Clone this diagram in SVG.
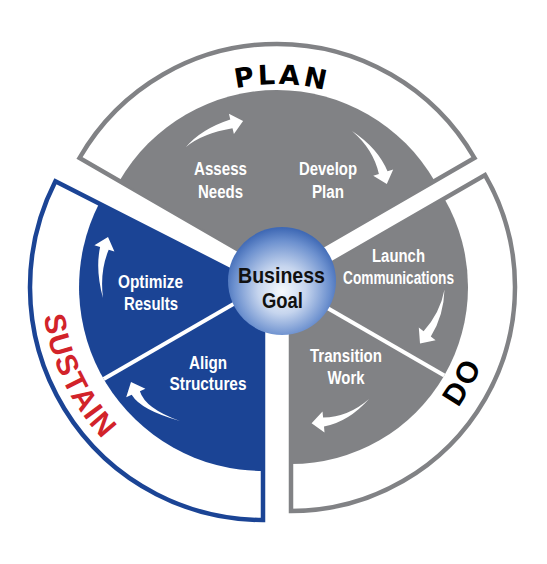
<svg xmlns="http://www.w3.org/2000/svg" width="547" height="564" viewBox="0 0 547 564">
<defs>
<radialGradient id="sphereGrad" cx="50%" cy="56%" r="55%" fx="50%" fy="60%">
<stop offset="0" stop-color="#f6f9fd"/>
<stop offset="0.4" stop-color="#c6d5ee"/>
<stop offset="0.8" stop-color="#6d91cf"/>
<stop offset="1" stop-color="#3f69b5"/>
</radialGradient>
<path id="arcPlan" d="M114.2,178 A188,188 0 0 1 439.8,178"/>
<path id="arcSustain" d="M71.6,176.5 A221,221 0 0 0 224.6,504.6"/>
<path id="arcDo" d="M291,493 A206,206 0 0 0 484.6,216.5"/>
</defs>
<style>
.ol-gray{fill:#fff;stroke:#818285;stroke-width:4.5}
.ol-blue{fill:#fff;stroke:#1b4495;stroke-width:4.5}
.f-gray{fill:#818285}
.f-blue{fill:#1b4495}
.sep{stroke:#fff;stroke-width:4}
.lbl{font-family:"Liberation Sans Narrow","Liberation Sans",Arial,sans-serif;font-weight:bold;font-size:18px;fill:#fff;text-anchor:middle}
.goal{font-family:"Liberation Sans Narrow","Liberation Sans",Arial,sans-serif;font-weight:bold;font-size:22px;fill:#111;text-anchor:middle}
.phase{font-family:"Liberation Sans",Arial,sans-serif;font-weight:bold;font-size:30px;text-anchor:middle}
.wide{font-family:"DejaVu Sans","Liberation Sans",sans-serif;font-weight:bold;font-size:27px;text-anchor:middle}
.arrow{fill:#fff}
</style>
<rect width="547" height="564" fill="#fff"/>

<g id="plan">
<path class="ol-gray" d="M277,272 L79.5,158 A228,228 0 0 1 474.5,158 Z"/>
<path class="f-gray" d="M277,272 L119.4,181 A182,182 0 0 1 434.6,181 Z"/>
<text class="wide" fill="#000" letter-spacing="3"><textPath href="#arcPlan" startOffset="51.2%">PLAN</textPath></text>
<text class="lbl" x="220.5" y="175" textLength="53" lengthAdjust="spacingAndGlyphs">Assess</text>
<text class="lbl" x="220.5" y="198" textLength="45" lengthAdjust="spacingAndGlyphs">Needs</text>
<text class="lbl" x="328" y="175" textLength="58" lengthAdjust="spacingAndGlyphs">Develop</text>
<text class="lbl" x="328" y="198" textLength="32" lengthAdjust="spacingAndGlyphs">Plan</text>
</g>

<g id="sustain">
<path class="ol-blue" d="M263,287 L55.4,181.2 A233,233 0 0 0 263,520 Z"/>
<path class="f-blue" d="M263,287 L99.1,203.5 A184,184 0 0 0 263,471 Z"/>
<line class="sep" x1="263" y1="287" x2="103.7" y2="379"/>
<text class="phase" fill="#d2232a" letter-spacing="1.5"><textPath href="#arcSustain" startOffset="50.6%">SUSTAIN</textPath></text>
<text class="lbl" x="150.5" y="288" textLength="65" lengthAdjust="spacingAndGlyphs">Optimize</text>
<text class="lbl" x="151" y="310" textLength="54" lengthAdjust="spacingAndGlyphs">Results</text>
<text class="lbl" x="208" y="369" textLength="38" lengthAdjust="spacingAndGlyphs">Align</text>
<text class="lbl" x="208" y="390" textLength="77" lengthAdjust="spacingAndGlyphs">Structures</text>
</g>

<g id="do">
<path class="ol-gray" d="M291,287 L485,175 A224,224 0 0 1 291,511 Z"/>
<path class="f-gray" d="M291,287 L444.3,198.5 A177,177 0 0 1 291,464 Z"/>
<line class="sep" x1="291" y1="287" x2="444.3" y2="375.5"/>
<text class="phase" fill="#000" letter-spacing="3"><textPath href="#arcDo" startOffset="55.6%">DO</textPath></text>
<text class="lbl" x="398.5" y="262" textLength="53" lengthAdjust="spacingAndGlyphs">Launch</text>
<text class="lbl" x="398.5" y="284" textLength="111" lengthAdjust="spacingAndGlyphs">Communications</text>
<text class="lbl" x="346" y="362" textLength="72" lengthAdjust="spacingAndGlyphs">Transition</text>
<text class="lbl" x="346" y="384" textLength="37" lengthAdjust="spacingAndGlyphs">Work</text>
</g>

<g id="connectors">
<path class="arrow" d="M186,147 Q202.4,133.4 232.5,128.3 L233.9,134.1 L243.1,121 L228.9,113.7 L230.3,119.5 Q201.3,129 186,147 Z"/>
<path class="arrow" d="M352,131 Q373.5,149.5 378.9,174 L373.2,175.8 L386.8,184 L393.2,169.4 L387.5,171.3 Q377.9,148.1 352,131 Z"/>
<path class="arrow" d="M444.5,289.5 Q440.2,312.8 423.6,331.2 L418.8,327.6 L420,343.5 L435.6,340.2 L430.8,336.6 Q443.8,315.6 444.5,289.5 Z"/>
<path class="arrow" d="M369,399 Q348.3,417.2 323.1,417.5 L322.5,411.6 L311.6,423.2 L324.5,432.5 L324,426.5 Q348.7,421.8 369,399 Z"/>
<path class="arrow" d="M180,421 Q145.1,408.4 139.9,391.2 L145.4,388.8 L131,382 L126.2,397.2 L131.7,394.8 Q140.9,410.2 180,421 Z"/>
<path class="arrow" d="M103,298 Q99.6,271.3 108.7,249.8 L114.4,251.6 L108,237 L94.4,245.2 L100.1,247.1 Q95.2,269.9 103,298 Z"/>
</g>

<g id="business-goal">
<circle cx="282" cy="281" r="54" fill="url(#sphereGrad)"/>
<text class="goal" x="281.5" y="283" textLength="87" lengthAdjust="spacingAndGlyphs">Business</text>
<text class="goal" x="282.5" y="308" textLength="41" lengthAdjust="spacingAndGlyphs">Goal</text>
</g>
</svg>
